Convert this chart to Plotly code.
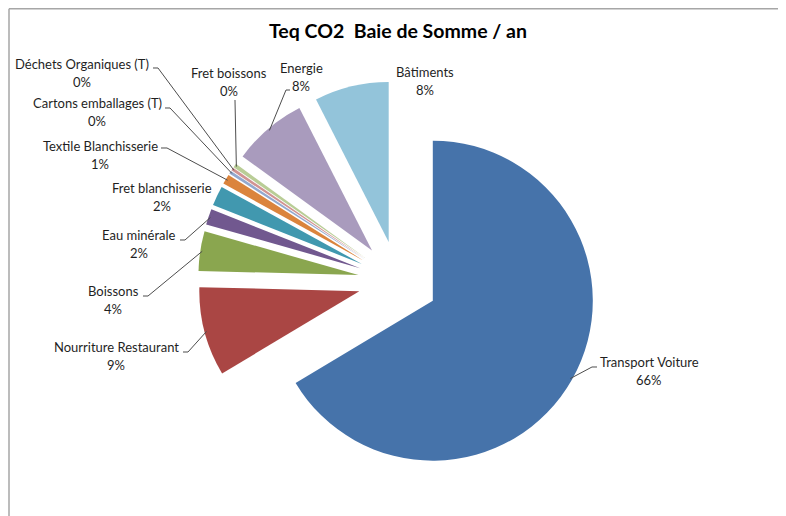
import math
import plotly.graph_objects as go

# ---------------- data ----------------
categories = [
    "Transport Voiture", "Nourriture Restaurant", "Boissons", "Eau minérale",
    "Fret blanchisserie", "Textile Blanchisserie", "Cartons emballages (T)",
    "Déchets Organiques (T)", "Fret boissons", "Energie", "Bâtiments",
]
values = [66.4, 9.0, 4.0, 1.6, 2.0, 1.0, 0.3, 0.3, 0.4, 7.5, 7.5]
colors = [
    "#4673AA", "#AA4644", "#8AA64F", "#71588F", "#4198AF", "#DB843D",
    "#93A9CF", "#D19392", "#B9CD96", "#A99BBD", "#93C4DA",
]
title_text = "Teq CO2  Baie de Somme / an"

# ---------------- layout constants (page pixels) ----------------
PAGE_W, PAGE_H = 786, 516
OFF = 8                      # default body margin of the html page
W, H = PAGE_W - OFF, PAGE_H - OFF
CX, CY = 398, 281            # pie centre (page px)
BOX = 400                    # pie domain box (square)
PULL = 0.25
R = BOX / (2 + 2 * PULL)     # plotly radius with pull

# label centre (x, y of first line) and leader-line start points at the label
label_layout = {
    "Transport Voiture": (649, 362, [(597, 367), (592, 367)]),
    "Nourriture Restaurant": (116, 347, [(183, 352), (188, 352)]),
    "Boissons": (113, 291, [(143, 296), (148, 296)]),
    "Eau minérale": (139, 235, [(180, 240), (185, 240)]),
    "Fret blanchisserie": (162, 188, None),
    "Textile Blanchisserie": (100, 146, [(161, 148), (167, 148)]),
    "Cartons emballages (T)": (97, 103, [(165, 108), (170, 108)]),
    "Déchets Organiques (T)": (82, 64, [(153, 68), (158, 68)]),
    "Fret boissons": (229, 73, [(235, 100)]),
    "Energie": (301, 68, [(290, 90), (286, 90)]),
    "Bâtiments": (425, 72, None),
}


def px(x):
    return (x - OFF) / W


def py(y):
    return 1 - (y - OFF) / H


fig = go.Figure(
    go.Pie(
        labels=categories,
        values=values,
        sort=False,
        direction="clockwise",
        rotation=0,
        pull=[PULL] * len(values),
        marker=dict(colors=colors, line=dict(width=0)),
        textinfo="none",
        domain=dict(
            x=[px(CX - BOX / 2), px(CX + BOX / 2)],
            y=[py(CY + BOX / 2), py(CY - BOX / 2)],
        ),
        showlegend=False,
    )
)

total = sum(values)
annotations = []
shapes = []
cum = 0.0
tf = dict(family="Lato, 'Open Sans', sans-serif", size=13, color="#1f1f1f")
for name, v in zip(categories, values):
    mid = (cum + v / 2) / total
    cum += v
    theta = 2 * math.pi * mid
    rr = R * (1 + PULL) - 2
    ex = CX + rr * math.sin(theta)
    ey = CY - rr * math.cos(theta)
    lx, ly, pts = label_layout[name]
    pct = f"{round(v / total * 100)}%"
    annotations.append(dict(x=px(lx), y=py(ly), xref="paper", yref="paper",
                            text=name, showarrow=False, font=tf,
                            xanchor="center", yanchor="middle"))
    annotations.append(dict(x=px(lx), y=py(ly + 18), xref="paper", yref="paper",
                            text=pct, showarrow=False, font=tf,
                            xanchor="center", yanchor="middle"))
    if pts:
        path_pts = pts + [(ex, ey)]
        d = "M " + " L ".join(f"{px(a):.5f},{py(b):.5f}" for a, b in path_pts)
        shapes.append(dict(type="path", path=d, xref="paper", yref="paper",
                           line=dict(color="#4d4d4d", width=1)))

# chart border (top and left)
shapes.append(dict(type="line", xref="paper", yref="paper",
                   x0=px(9), y0=py(8.8), x1=px(786), y1=py(8.8),
                   line=dict(color="#a6a6a6", width=1.5)))
shapes.append(dict(type="line", xref="paper", yref="paper",
                   x0=px(9), y0=py(8.8), x1=px(9), y1=py(516),
                   line=dict(color="#a6a6a6", width=1.5)))

annotations.append(dict(x=px(398), y=py(30), xref="paper", yref="paper",
                        text="<b>" + title_text + "</b>", showarrow=False,
                        font=dict(family="Lato, 'Open Sans', sans-serif", size=19.5, color="#000000"),
                        xanchor="center", yanchor="middle"))

fig.update_layout(
    width=W, height=H,
    margin=dict(l=0, r=0, t=0, b=0),
    paper_bgcolor="white",
    plot_bgcolor="white",
    annotations=annotations,
    shapes=shapes,
)

fig.write_html("out.html")
